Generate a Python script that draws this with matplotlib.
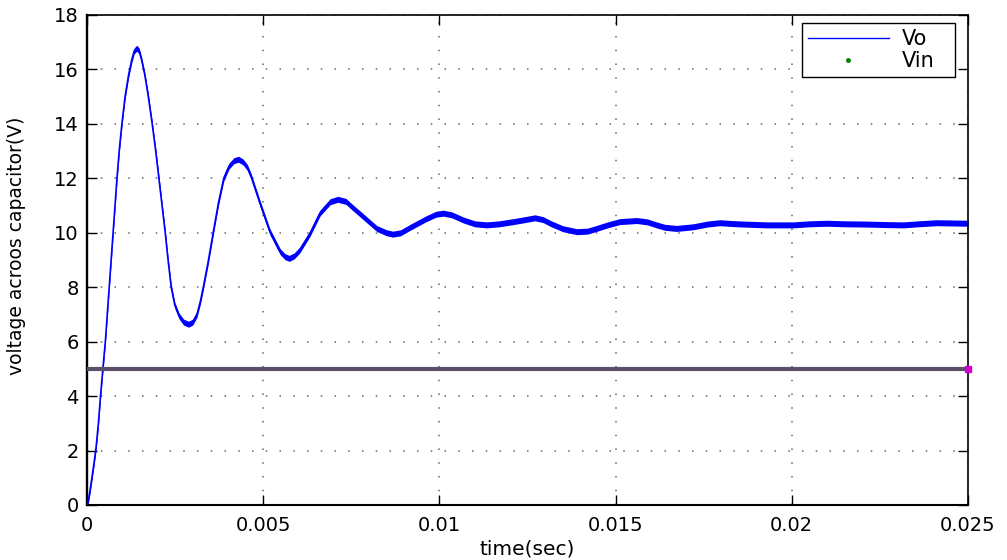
import matplotlib
matplotlib.use("Agg")
import matplotlib.pyplot as plt
from matplotlib.lines import Line2D
import numpy as np

# ---- data ----
t_vo = [0.0, 0.00005, 0.00010, 0.00015, 0.00020, 0.00026, 0.00032, 0.00038, 0.00045,
        0.00052, 0.00063, 0.00074, 0.00085, 0.00092, 0.00099, 0.00108, 0.00118, 0.00127,
        0.00134, 0.00141, 0.00148, 0.00155, 0.00164, 0.00174, 0.00185, 0.00195, 0.00204,
        0.00213, 0.00222, 0.00230, 0.00239, 0.00249, 0.00261, 0.00274, 0.00288, 0.00300,
        0.00312, 0.00322, 0.00330, 0.00344, 0.00358, 0.00373, 0.00388, 0.00403, 0.00417,
        0.00430, 0.00443, 0.00455, 0.00466, 0.00491, 0.00519, 0.00548, 0.00562, 0.00574,
        0.00588, 0.00604, 0.00633, 0.00661, 0.00690, 0.00712, 0.00735, 0.00751, 0.00784,
        0.00822, 0.00850, 0.00868, 0.00890, 0.00917, 0.00960, 0.00990, 0.01011, 0.01035,
        0.01068, 0.01100, 0.01134, 0.01170, 0.01210, 0.01250, 0.01271, 0.01295, 0.01314,
        0.01350, 0.01390, 0.01420, 0.01446, 0.01480, 0.01512, 0.01560, 0.01590, 0.01616,
        0.01640, 0.01673, 0.01720, 0.01760, 0.01796, 0.01830, 0.01862, 0.01930, 0.02004,
        0.02050, 0.02099, 0.02150, 0.02212, 0.02270, 0.02316, 0.02360, 0.02411, 0.02500]
vo = [0.0, 0.25, 0.65, 1.1, 1.55, 2.15, 2.95, 3.95, 5.0,
      6.0, 8.0, 10.0, 12.0, 13.1, 14.0, 15.0, 15.8, 16.35,
      16.68, 16.78, 16.68, 16.35, 15.8, 15.0, 14.0, 13.0, 12.0,
      11.0, 10.0, 9.0, 8.0, 7.35, 6.95, 6.72, 6.64, 6.72,
      7.0, 7.5, 8.0, 8.95, 10.0, 11.1, 12.0, 12.45, 12.65,
      12.7, 12.6, 12.4, 12.06, 11.08, 10.04, 9.31, 9.12, 9.06,
      9.15, 9.37, 9.98, 10.72, 11.14, 11.23, 11.15, 10.96, 10.59,
      10.16, 10.0, 9.95, 10.0, 10.2, 10.5, 10.68, 10.72, 10.66,
      10.47, 10.33, 10.29, 10.33, 10.41, 10.5, 10.55, 10.48, 10.35,
      10.15, 10.04, 10.06, 10.16, 10.3, 10.41, 10.45, 10.4, 10.29,
      10.2, 10.16, 10.22, 10.32, 10.37, 10.34, 10.32, 10.29, 10.29,
      10.33, 10.35, 10.33, 10.32, 10.30, 10.29, 10.33, 10.37, 10.35]
t_vin = [0.0, 0.025]
vin = [5.0, 5.0]
ripple = 0.11  # half-height of the switching ripple band (V)

x_ticks = [0, 0.005, 0.01, 0.015, 0.02, 0.025]
x_ticklabels = ["0", "0.005", "0.01", "0.015", "0.02", "0.025"]
y_ticks = list(range(0, 19, 2))

plt.rcParams['font.family'] = ['DejaVu Sans']

fig = plt.figure(figsize=(10.07, 5.6), dpi=100)
ax = fig.add_axes([87/1007, 1-505/560, (968-87)/1007, (505-15)/560])

t_arr = np.array(t_vo)
v_arr = np.array(vo)
ax.fill_between(t_arr, v_arr - ripple, v_arr + ripple, color='#0000ff', lw=0, zorder=2)
ax.plot(t_vo, vo, color='#0000ff', lw=1.2, zorder=3, label='Vo')
ax.plot(t_vin, vin, color='#5a5068', lw=3.0, zorder=4, solid_capstyle='butt')
ax.plot([t_vin[-1]], [vin[-1]], 's', color='#d000d0', ms=4, zorder=5, clip_on=False)

ax.set_xlim(0, 0.025)
ax.set_ylim(0, 18)
ax.set_xticks(x_ticks)
ax.set_xticklabels(x_ticklabels)
ax.set_yticks(y_ticks)
ax.tick_params(direction='in', length=7, width=1, labelsize=14, top=True, right=True)
ax.tick_params(axis='x', pad=8)
ax.tick_params(axis='y', pad=6)
ax.grid(True, color='#666666', linestyle=(0, (1, 8)), lw=1.1)
for s in ax.spines.values():
    s.set_linewidth(1.2)
ax.spines['left'].set_linewidth(1.7)
ax.spines['bottom'].set_linewidth(1.5)

ax.set_xlabel('time(sec)', fontsize=14.5, labelpad=3)
ax.set_ylabel('voltage acroos capacitor(V)', fontsize=13.5)
ax.yaxis.set_label_coords(-0.069, 0.529)

handles = [Line2D([0], [0], color='#0000ff', lw=1.0),
           Line2D([0], [0], color='#008000', marker='.', ms=5, ls='none')]
x0 = (802 - 87) / 881
w = (955 - 802) / 881
ytop = 1 - (23 - 15) / 490
leg = ax.legend(handles, ['Vo', 'Vin'], loc='upper left', fontsize=15, mode='expand',
                frameon=True, fancybox=False, edgecolor='black', framealpha=1,
                handlelength=3.9, borderpad=0.28, labelspacing=0.1, handletextpad=0.6,
                borderaxespad=0, bbox_to_anchor=(x0, ytop - 0.2, w, 0.2))
leg.get_frame().set_linewidth(1.0)

fig.savefig('out.png', dpi=100)
